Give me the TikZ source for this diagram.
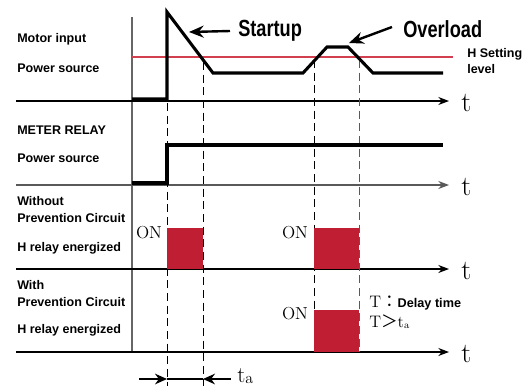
\documentclass[tikz,border=0pt]{standalone}
\usepackage{fontspec}
\newfontfamily\lab{Liberation Sans}
\newfontfamily\cond[FakeStretch=0.78]{Liberation Sans}
\newfontfamily\cjk{Noto Sans CJK JP}
\usetikzlibrary{arrows.meta}
\definecolor{relay}{HTML}{C01E32}
\definecolor{hline}{HTML}{D2404F}
\begin{document}
\begin{tikzpicture}[x=0.75pt,y=-0.75pt,
  lbl/.style={font=\lab\bfseries\fontsize{9.4}{11}\selectfont, anchor=west, inner sep=0pt},
  axisline/.style={line width=0.9pt, -{Stealth[length=8pt,width=6pt]}},
  sig/.style={line width=2.3pt, line join=miter},
  guide/.style={line width=0.7pt, dash pattern=on 6pt off 3.5pt},
  tlab/.style={font=\fontsize{21}{21}\selectfont, anchor=west, inner sep=0pt},
  onlab/.style={font=\fontsize{13}{13}\selectfont, inner sep=0pt},
  big/.style={font=\cond\bfseries\fontsize{17.5}{17.5}\selectfont, anchor=west, inner sep=0pt},
  callout/.style={line width=1.8pt, -{Stealth[length=11pt,width=9pt]}}
]
\useasboundingbox (0,0) rectangle (532,387);

% vertical reference line
\coordinate (vt) at (132,17);
\coordinate (vb) at (132,352);
\draw[line width=0.8pt, black!60] (vt) -- (vb);

% red setting level
\coordinate (hs) at (132,57);
\coordinate (he) at (453,57);
\draw[hline, line width=0.9pt] (hs) -- (he);

% axes
\foreach \n/\y/\c in {1/101/black, 2/185/black!65, 3/269/black, 4/352/black}{
  \coordinate (a\n s) at (16,\y);
  \coordinate (a\n e) at (449,\y);
  \draw[axisline, \c] (a\n s) -- (a\n e);
  \node[tlab] (t\n) at (461,\y+2) {t};
}

% guides
\coordinate (g1t) at (167,103); \coordinate (g1b) at (167,386);
\coordinate (g2t) at (203,62);  \coordinate (g2b) at (203,386);
\coordinate (g3t) at (314,60);  \coordinate (g3b) at (314,352);
\coordinate (g4t) at (359,60);  \coordinate (g4b) at (359,352);
\draw[guide] (g1t) -- (g1b);
\draw[guide] (g2t) -- (g2b);
\draw[guide] (g3t) -- (g3b);
\draw[guide, black!65] (g4t) -- (g4b);

% motor input waveform
\draw[sig] (132,99) -- (167,99) -- (167,12) -- (213,73) -- (303,73) -- (327,47) -- (348,47) -- (373,73) -- (443,73);

% meter relay power waveform
\draw[sig] (132,183) -- (167,183) -- (167,145) -- (443,145);

% relay boxes
\fill[relay] (167,228) rectangle (203,268.5);
\fill[relay] (314,228) rectangle (359,268.5);
\fill[relay] (314,310) rectangle (359,351.5);

% ON labels
\node[onlab] (on1) at (149,233) {ON};
\node[onlab] (on2) at (295,233) {ON};
\node[onlab] (on3) at (295,314) {ON};

% left labels
\node[lbl] (l1) at (17,39) {Motor input};
\node[lbl] (l2) at (17,68) {Power source};
\node[lbl] (l3) at (17,130) {METER RELAY};
\node[lbl] (l4) at (17,158) {Power source};
\node[lbl] (l5) at (17,201) {Without};
\node[lbl] (l6) at (17,218) {Prevention Circuit};
\node[lbl] (l7) at (17,248) {H relay energized};
\node[lbl] (l8) at (17,285) {With};
\node[lbl] (l9) at (17,302) {Prevention Circuit};
\node[lbl] (l10) at (17,330) {H relay energized};

% callouts
\node[big] (su) at (238,31) {Startup};
\coordinate (sut) at (189,32);
\draw[callout] (su.west) ++(-6pt,0) -- (sut);
\node[big] (ov) at (403,29) {Overload};
\coordinate (ovs) at (392,27);
\coordinate (ovt) at (349,43);
\draw[callout] (ovs) -- (ovt);

% H setting level
\node[lbl, align=left, font=\lab\bfseries\fontsize{9.4}{12}\selectfont] (hsl) at (467,61) {H Setting\\level};

% delay note
\node[anchor=west, inner sep=0pt, font=\fontsize{12.5}{12.5}\selectfont] (dn1) at (369,303) {T{\cjk ：}{\lab\bfseries\fontsize{9.5}{10}\selectfont Delay time}};
\node[anchor=west, inner sep=0pt, font=\fontsize{12.5}{12.5}\selectfont] (dn2) at (369,322) {T{\cjk ＞}t{\fontsize{7.5}{8}\selectfont\raisebox{-0.25ex}{a}}};

% ta marker
\coordinate (m1) at (167,379);
\coordinate (m2) at (203,379);
\coordinate (ml) at (139,379);
\coordinate (mr) at (231,379);
\draw[line width=1.2pt, -{Stealth[length=9pt,width=8pt]}] (ml) -- (m1);
\draw[line width=1.2pt] (m1) -- (m2);
\draw[line width=1.2pt, -{Stealth[length=9pt,width=8pt]}] (mr) -- (m2);
\node[anchor=west, inner sep=0pt] (ta) at (237,376) {{\fontsize{17}{17}\selectfont t}{\fontsize{12}{12}\selectfont\raisebox{-0.2ex}{a}}};
\end{tikzpicture}
\end{document}
